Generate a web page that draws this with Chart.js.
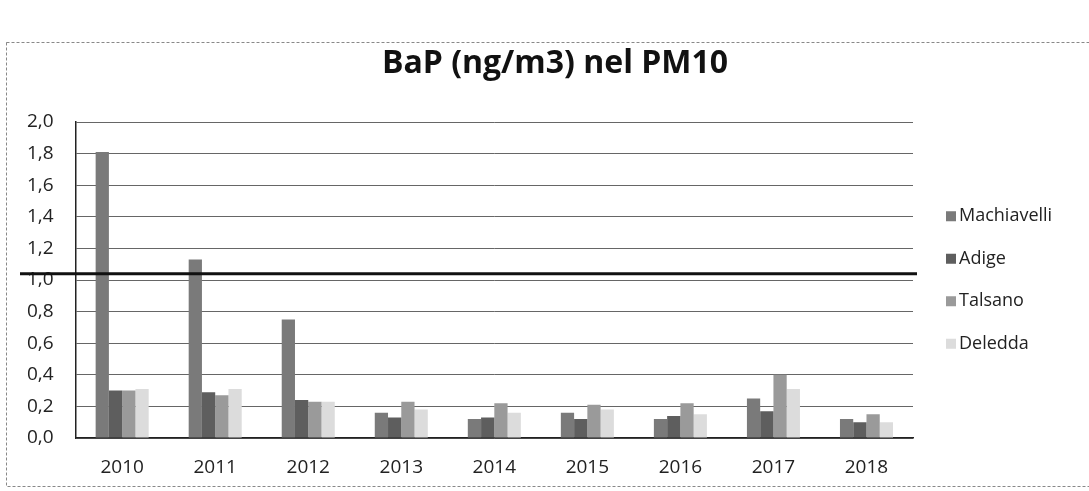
<!DOCTYPE html>
<html>
<head>
<meta charset="utf-8">
<script src="https://cdn.jsdelivr.net/npm/chart.js@4"></script>
<style>
  html, body { margin: 0; padding: 0; background: #fff; }
  #wrap { width: 1089px; height: 491px; }
</style>
</head>
<body>
<div id="wrap"><canvas id="chart" width="1089" height="491"></canvas></div>
<script>
// BaP (ng/m3) in PM10
const years = ['2010', '2011', '2012', '2013', '2014', '2015', '2016', '2017', '2018'];
const machiavelli = [1.81, 1.13, 0.75, 0.16, 0.12, 0.16, 0.12, 0.25, 0.12];
const adige       = [0.30, 0.29, 0.24, 0.13, 0.13, 0.12, 0.14, 0.17, 0.10];
const talsano     = [0.30, 0.27, 0.23, 0.23, 0.22, 0.21, 0.22, 0.40, 0.15];
const deledda     = [0.31, 0.31, 0.23, 0.18, 0.16, 0.18, 0.15, 0.31, 0.10];
const limitValue = 1.04; // thick reference line (target value)
const chartTitle = 'BaP (ng/m3) nel PM10';

const FONT = '"Open Sans", Lato, sans-serif';

// dashed frame, title, thick limit line and the legend on the right
const extras = {
    id: 'extras',
    beforeDraw(chart) {
        const ctx = chart.ctx;
        ctx.save();
        ctx.fillStyle = '#fff';
        ctx.fillRect(0, 0, chart.width, chart.height);
        ctx.strokeStyle = '#888';
        ctx.lineWidth = 1;
        ctx.setLineDash([3, 2]);
        ctx.strokeRect(6.5, 42.5, 1100, 444);
        ctx.setLineDash([]);
        ctx.fillStyle = '#111';
        ctx.font = 'bold 32px ' + FONT;
        ctx.textAlign = 'center';
        ctx.textBaseline = 'middle';
        ctx.fillText(chartTitle, 555, 64);
        ctx.restore();
    },
    afterDatasetsDraw(chart) {
        const ctx = chart.ctx;
        const area = chart.chartArea;
        const y = chart.scales.y.getPixelForValue(limitValue);
        ctx.save();
        ctx.strokeStyle = '#111';
        ctx.lineWidth = 3;
        ctx.beginPath();
        ctx.moveTo(20, y);
        ctx.lineTo(area.right + 4, y);
        ctx.stroke();

        // legend
        const sets = chart.data.datasets;
        const step = 42.5;
        const mid = (area.top + area.bottom) / 2;
        const x0 = area.right + 33;
        ctx.font = '18px ' + FONT;
        ctx.textBaseline = 'middle';
        ctx.textAlign = 'left';
        sets.forEach((ds, i) => {
            const cy = mid + (i - (sets.length - 1) / 2) * step;
            ctx.fillStyle = ds.backgroundColor;
            ctx.fillRect(x0, cy - 5, 10, 10);
            ctx.fillStyle = '#222';
            ctx.fillText(ds.label, x0 + 13, cy);
        });
        ctx.restore();
    }
};

new Chart(document.getElementById('chart'), {
    type: 'bar',
    data: {
        labels: years,
        datasets: [
            { label: 'Machiavelli', data: machiavelli, backgroundColor: '#7a7a7a' },
            { label: 'Adige', data: adige, backgroundColor: '#5e5e5e' },
            { label: 'Talsano', data: talsano, backgroundColor: '#9a9a9a' },
            { label: 'Deledda', data: deledda, backgroundColor: '#dcdcdc' }
        ]
    },
    options: {
        responsive: false,
        animation: false,
        layout: { padding: { top: 122, left: 5, right: 176, bottom: -6 } },
        datasets: { bar: { categoryPercentage: 0.57, barPercentage: 1.0 } },
        scales: {
            x: {
                grid: { display: false, drawTicks: false },
                border: { color: '#222', width: 1.5 },
                ticks: { color: '#222', font: { family: FONT, size: 19, lineHeight: 1.0 }, padding: 20 }
            },
            y: {
                min: 0, max: 2,
                grid: { color: '#666', lineWidth: 1, drawTicks: false },
                border: { color: '#222', width: 1.5 },
                ticks: {
                    stepSize: 0.2,
                    color: '#222',
                    font: { family: FONT, size: 19 },
                    padding: 22,
                    callback: v => v.toFixed(1).replace('.', ',')
                }
            }
        },
        plugins: {
            title: { display: false },
            legend: { display: false },
            tooltip: { enabled: false }
        }
    },
    plugins: [extras]
});
</script>
</body>
</html>
